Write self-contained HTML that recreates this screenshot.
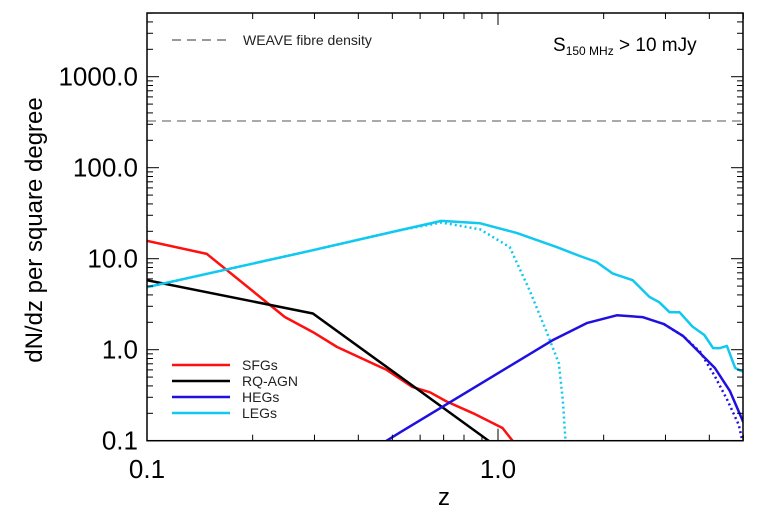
<!DOCTYPE html>
<html><head><meta charset="utf-8"><style>
html,body{margin:0;padding:0;background:#fff;}
svg{display:block;font-family:"Liberation Sans",Arial,sans-serif;}
</style></head><body>
<svg id="chart" width="776" height="518" viewBox="0 0 776 518" xmlns="http://www.w3.org/2000/svg">
<g id="marks"></g>
<g id="axes"></g>
<text transform="translate(42,230) rotate(-90)" text-anchor="middle" font-size="24" fill="#000">dN/dz per square degree</text>
<text x="444" y="505" text-anchor="middle" font-size="24" fill="#000">z</text>
<g>
<line x1="172" y1="40" x2="228" y2="40" stroke="#999" stroke-width="2" stroke-dasharray="9,6"/>
<text x="243" y="45" font-size="14" fill="#222">WEAVE fibre density</text>
</g>
<text x="553" y="51" font-size="19" fill="#000">S<tspan font-size="12" dy="4">150 MHz</tspan><tspan dy="-4"> &gt; 10 mJy</tspan></text>
<g id="legend"></g>
</svg>
<script>
const xTicks=[0.1,1.0];
const xTickLabels=["0.1","1.0"];
const yTicks=[0.1,1,10,100,1000];
const yTickLabels=["0.1","1.0","10.0","100.0","1000.0"];
const weaveDensity=[326];
const sfgZ=[0.1,0.148,0.247,0.297,0.348,0.482,0.57,0.64,0.713,0.85,1.03,1.1,1.2];
const sfgN=[15.7,11.3,2.29,1.56,1.07,0.6,0.39,0.34,0.27,0.2,0.138,0.1,0.06];
const agnZ=[0.1,0.297,0.94,1.1];
const agnN=[5.8,2.5,0.1,0.06];
const legZ=[0.1,0.297,0.527,0.69,0.89,1.13,1.47,1.71,1.91,2.12,2.42,2.7,2.88,3.08,3.29,3.58,3.87,4.1,4.29,4.49,4.74,5.0];
const legN=[4.86,12.4,20.6,26,24.5,19.2,13.4,10.7,9.2,6.9,5.8,3.8,3.33,2.58,2.58,1.8,1.45,1.04,1.04,1.1,0.63,0.57];
const legDotZ=[0.1,0.297,0.527,0.69,0.89,1.08,1.23,1.38,1.49,1.53,1.56];
const legDotN=[4.86,12.4,20.6,25,21,13.4,4.5,1.52,0.71,0.28,0.09];
const hegZ=[0.45,0.527,1.43,1.79,2.18,2.58,2.97,3.37,4.15,4.58,5.0];
const hegN=[0.085,0.124,1.27,1.96,2.39,2.28,1.91,1.41,0.63,0.35,0.16];
const hegDotZ=[2.97,3.37,3.77,4.15,4.5,4.85,5.0];
const hegDotN=[1.91,1.41,0.94,0.51,0.28,0.15,0.09];

const L=147,R=743,T=13,B=440.7;
const xDec=351,yDec=91;
const X=z=>L+(Math.log10(z)+1)*xDec;
const Y=v=>B-(Math.log10(v)+1)*yDec;
const NS="http://www.w3.org/2000/svg";
function mk(tag,attrs,parent){const e=document.createElementNS(NS,tag);for(const k in attrs)e.setAttribute(k,attrs[k]);parent.appendChild(e);return e;}
const marks=document.getElementById('marks'),axes=document.getElementById('axes'),legend=document.getElementById('legend');
mk('clipPath',{id:'clip'},marks);
mk('rect',{x:L,y:T,width:R-L,height:B-T},document.getElementById('clip'));

const w=mk('line',{x1:L,x2:R,y1:Y(weaveDensity[0]),y2:Y(weaveDensity[0]),stroke:'#aaa','stroke-width':2,'stroke-dasharray':'9,6'},marks);



function series(zs,ns,color,name,dotted){
  const d=zs.map((z,i)=>(i?'L':'M')+X(z).toFixed(1)+','+Y(ns[i]).toFixed(1)).join(' ');
  const p=mk('path',{d:d,fill:'none',stroke:color,'stroke-width':2.5,'stroke-linejoin':'round','clip-path':'url(#clip)'},marks);
  if(dotted)p.setAttribute('stroke-dasharray','2,3');
  
  
}
series(legDotZ,legDotN,'#10c8f0','legs-dotted-line',true);
series(hegDotZ,hegDotN,'#2010e0','hegs-dotted-line',true);
series(sfgZ,sfgN,'#ff1010','sfgs-line',false);
series(agnZ,agnN,'#000','rq-agn-line',false);
series(hegZ,hegN,'#2010e0','hegs-line',false);
series(legZ,legN,'#10c8f0','legs-line',false);

const fr=mk('rect',{x:L,y:T,width:R-L,height:B-T,fill:'none',stroke:'#000','stroke-width':1.5},axes);


for(let dec=0.1;dec<10;dec*=10){for(let m=1;m<10;m++){const z=dec*m;if(z>5.001)break;const x=X(z);const len=m===1?12:6;
  mk('line',{x1:x,x2:x,y1:B,y2:B-len,stroke:'#000','stroke-width':1},axes);
  mk('line',{x1:x,x2:x,y1:T,y2:T+len,stroke:'#000','stroke-width':1},axes);}}
xTicks.forEach((t,i)=>{const e=mk('text',{x:X(t),y:478,'text-anchor':'middle','font-size':26,fill:'#000'},axes);e.textContent=xTickLabels[i];

});
for(let dec=0.1;dec<10000;dec*=10){for(let m=1;m<10;m++){const v=dec*m;if(v>5001)break;const y=Y(v);const len=m===1?12:6;
  mk('line',{x1:L,x2:L+len,y1:y,y2:y,stroke:'#000','stroke-width':1},axes);
  mk('line',{x1:R,x2:R-len,y1:y,y2:y,stroke:'#000','stroke-width':1},axes);}}
yTicks.forEach((t,i)=>{const e=mk('text',{x:138,y:Y(t)+9,'text-anchor':'end','font-size':26,fill:'#000'},axes);e.textContent=yTickLabels[i];

});

const legNames=['SFGs','RQ-AGN','HEGs','LEGs'];
const legColors=['#ff1010','#000','#2010e0','#10c8f0'];
legNames.forEach((n,i)=>{const y=365+i*16;
  const g=mk('g',{},legend);
  
  
  mk('line',{x1:172,x2:230,y1:y,y2:y,stroke:legColors[i],'stroke-width':2.5},g);
  const t=mk('text',{x:242,y:y+5,'font-size':14,fill:'#222'},g);t.textContent=n;});
</script>
</body></html>
